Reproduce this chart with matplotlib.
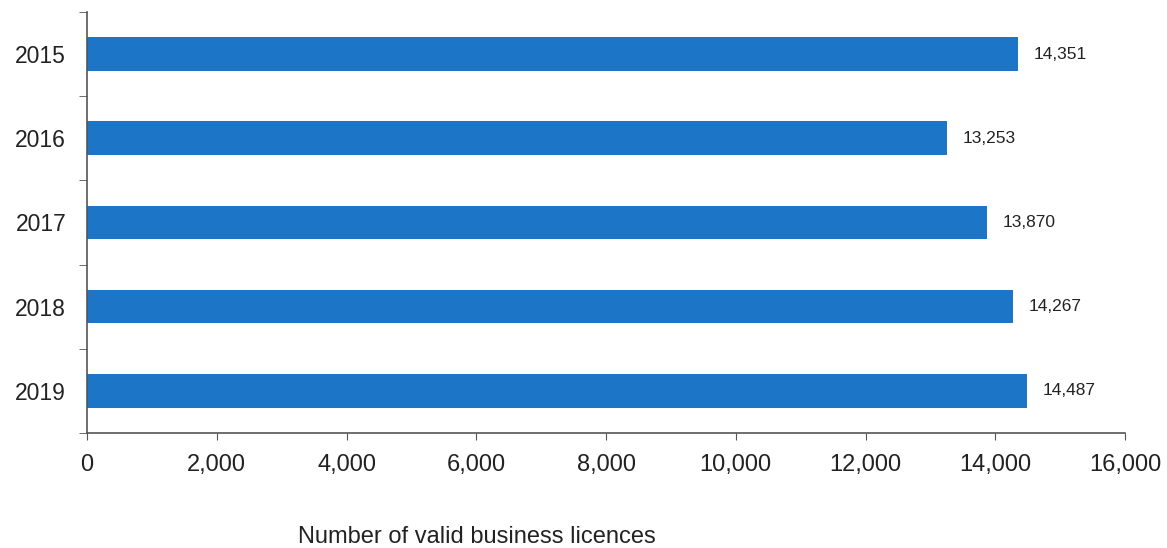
import matplotlib

matplotlib.use("Agg")

import matplotlib.pyplot as plt
import numpy as np

years = ["2015", "2016", "2017", "2018", "2019"]
licences = [14351, 13253, 13870, 14267, 14487]
x_ticks = [0, 2000, 4000, 6000, 8000, 10000, 12000, 14000, 16000]

plt.rcParams["font.family"] = ["Liberation Sans", "DejaVu Sans"]

fig = plt.figure(figsize=(11.67, 5.48), dpi=100)
ax = fig.add_axes([0.0746, 0.210, 0.8894, 0.768])

pos = np.arange(len(years))
ax.barh(pos, licences, height=0.4, color="#1c75c6")
for p, v in zip(pos, licences):
    ax.annotate(f"{v:,}", (v, p), xytext=(11.5, 0), textcoords="offset points",
                va="center", ha="left", fontsize=12.5, color="#222222")

ax.set_xlim(0, 16000)
ax.set_ylim(len(years) - 0.5, -0.5)
ax.set_yticks(pos)
ax.set_yticklabels(years)
ax.set_yticks(np.arange(-0.5, len(years)), minor=True)
ax.tick_params(axis="y", which="major", length=0, pad=15, labelsize=16.5,
               labelcolor="#222222")
ax.tick_params(axis="y", which="minor", length=6, color="#555555")
ax.set_xticks(x_ticks)
ax.set_xticklabels([f"{t:,}" for t in x_ticks])
ax.tick_params(axis="x", length=5, color="#555555", labelsize=17, pad=10,
               labelcolor="#222222")

for s in ["top", "right"]:
    ax.spines[s].set_visible(False)
for s in ["left", "bottom"]:
    ax.spines[s].set_color("#555555")
    ax.spines[s].set_linewidth(1.2)

fig.text(477 / 1167, 1 - 537 / 548, "Number of valid business licences",
         ha="center", va="center", fontsize=17, color="#222222")

fig.savefig("out.png", dpi=100)
